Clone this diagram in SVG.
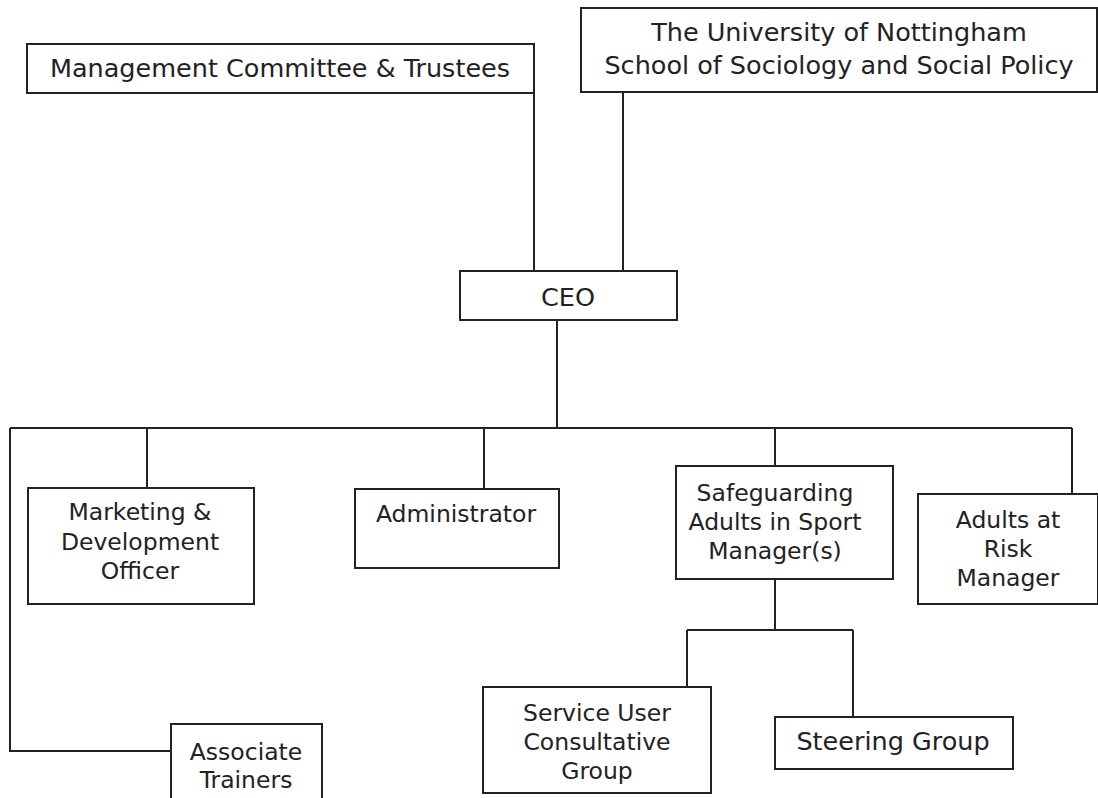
<svg xmlns="http://www.w3.org/2000/svg" width="1098" height="798" viewBox="0 0 1098 798">
<style>
rect.box{fill:#fff;stroke:#222;stroke-width:2}
.conn path{fill:none;stroke:#222;stroke-width:2}
text{font-family:"DejaVu Sans",Verdana,sans-serif;fill:#222;text-anchor:middle}
.big{font-size:25.5px}
.sm{font-size:23.5px}
</style>
<rect width="1098" height="798" fill="#fff"/>
<g class="conn">
<path d="M534 93V271"/>
<path d="M623 92V271"/>
<path d="M557 320V428"/>
<path d="M10 428H1072"/>
<path d="M10 428V751H171"/>
<path d="M147 428V488"/>
<path d="M484 428V489"/>
<path d="M775 428V466"/>
<path d="M1072 428V494"/>
<path d="M775 579V630"/>
<path d="M687 630H853"/>
<path d="M687 630V687"/>
<path d="M853 630V717"/>
</g>
<g id="mgmt"><rect class="box" x="27" y="44" width="507" height="49"/><text class="big" x="280" y="77">Management Committee &amp; Trustees</text></g>
<g id="univ"><rect class="box" x="581" y="8" width="516" height="84"/><text class="big" x="839" y="41">The University of Nottingham</text><text class="big" x="839" y="74">School of Sociology and Social Policy</text></g>
<g id="ceo"><rect class="box" x="460" y="271" width="217" height="49"/><text class="big" x="568" y="306">CEO</text></g>
<g id="marketing"><rect class="box" x="28" y="488" width="226" height="116"/><text class="sm" x="140" y="520">Marketing &amp;</text><text class="sm" x="140" y="550">Development</text><text class="sm" x="140" y="579">Officer</text></g>
<g id="admin"><rect class="box" x="355" y="489" width="204" height="79"/><text class="sm" x="456" y="522">Administrator</text></g>
<g id="safeguarding"><rect class="box" x="676" y="466" width="217" height="113"/><text class="sm" x="775" y="501">Safeguarding</text><text class="sm" x="775" y="530">Adults in Sport</text><text class="sm" x="775" y="559">Manager(s)</text></g>
<g id="risk"><rect class="box" x="918" y="494" width="180" height="110"/><text class="sm" x="1008" y="528">Adults at</text><text class="sm" x="1008" y="557">Risk</text><text class="sm" x="1008" y="586">Manager</text></g>
<g id="serviceuser"><rect class="box" x="483" y="687" width="228" height="106"/><text class="sm" x="597" y="721">Service User</text><text class="sm" x="597" y="750">Consultative</text><text class="sm" x="597" y="779">Group</text></g>
<g id="steering"><rect class="box" x="775" y="717" width="238" height="52"/><text class="big" x="893" y="750">Steering Group</text></g>
<g id="associate"><rect class="box" x="171" y="724" width="151" height="80"/><text class="sm" x="246" y="760">Associate</text><text class="sm" x="246" y="788">Trainers</text></g>
</svg>
